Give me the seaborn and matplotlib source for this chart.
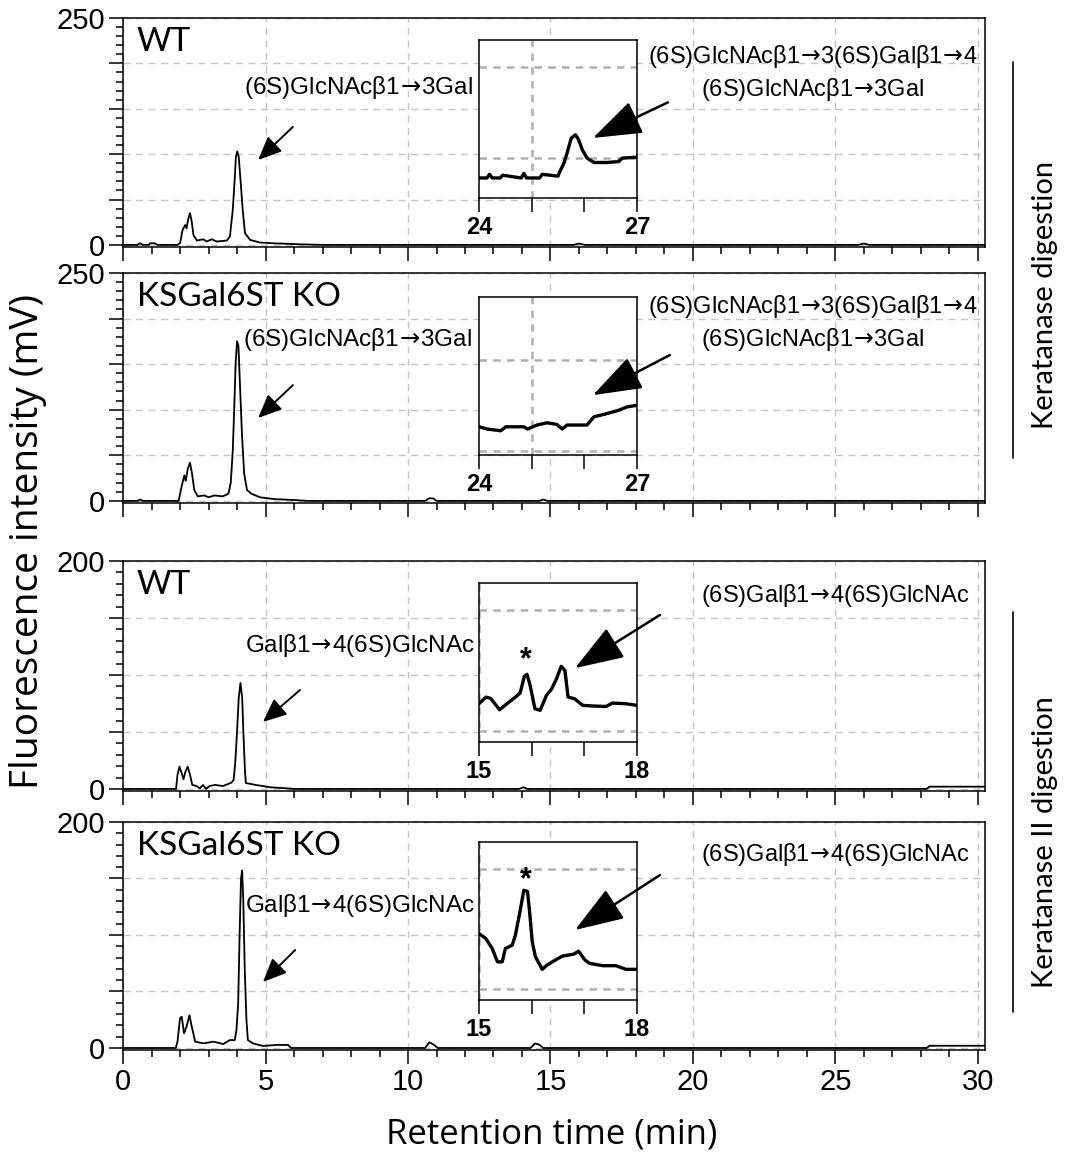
import numpy as np
import matplotlib
matplotlib.use('Agg')
import matplotlib.pyplot as plt
from matplotlib.ticker import MultipleLocator, FuncFormatter
from matplotlib.lines import Line2D
import seaborn as sns

# ---- chromatogram data (retention time in min, intensity in mV) ----
kw_wt_t = [0, 0.5, 0.6, 0.7, 0.9, 0.95, 1.12, 1.2, 1.9, 2.0, 2.09, 2.18, 2.23, 2.29, 2.35, 2.41,
           2.47, 2.59, 2.82, 2.93, 3.11, 3.29, 3.64, 3.75, 3.85, 3.91, 3.96, 4.01, 4.06, 4.13,
           4.2, 4.28, 4.46, 4.81, 5.28, 6.2, 7.0, 15.8, 16.0, 16.2, 25.8, 26.0, 26.2, 30.3]
kw_wt_v = [0, 0, 1.8, 0, 0, 1.8, 1.8, 0, 0, 1.8, 16.5, 22, 18.3, 29, 35, 25.7,
           11, 4.8, 6.2, 3.7, 6.2, 3.7, 4.8, 9.2, 38.5, 68, 97, 103, 97, 68,
           38.5, 12.8, 5.5, 2.6, 1.8, 0.7, 0, 0, 1.5, 0, 0, 1.5, 0, 0]

kw_ko_t = [0, 0.5, 0.6, 0.7, 1.95, 2.05, 2.15, 2.2, 2.27, 2.35, 2.42, 2.5, 2.62, 2.85, 3.0,
           3.2, 3.5, 3.7, 3.78, 3.85, 3.9, 3.95, 4.0, 4.05, 4.1, 4.17, 4.25, 4.35, 4.5,
           4.8, 5.3, 6.0, 6.5, 10.6, 10.75, 10.9, 11.0, 14.6, 14.75, 14.9, 30.3]
kw_ko_v = [0, 0, 1.5, 0, 0, 15, 28, 22, 35, 42, 30, 12, 5, 6, 4,
           6, 5, 8, 20, 55, 100, 150, 175, 170, 130, 75, 30, 12, 8,
           4, 2, 1, 0, 0, 3, 2.5, 0, 0, 1.5, 0, 0]

k2_wt_t = [0, 1.86, 1.91, 1.98, 2.06, 2.12, 2.19, 2.27, 2.35, 2.43, 2.58, 2.69, 2.81, 2.91,
           3.04, 3.22, 3.51, 3.8, 3.88, 3.94, 4.0, 4.06, 4.12, 4.18, 4.23, 4.28, 4.31, 4.66,
           4.9, 5.14, 5.72, 6.0, 13.9, 14.05, 14.2, 28.2, 28.3, 30.3]
k2_wt_v = [0, 0, 12.3, 19.6, 13.7, 8.5, 15.2, 19.6, 12.3, 3.5, 2.6, 0.6, 3.5, 0,
           2.6, 3.5, 2.6, 5.5, 7.9, 24, 50, 80, 93, 80, 45, 15, 5.2, 3.5,
           2.6, 1.5, 0.6, 0, 0, 1.5, 0, 0, 2, 2]

k2_ko_t = [0, 1.85, 1.91, 2.0, 2.06, 2.14, 2.23, 2.33, 2.41, 2.53, 2.82, 3.17, 3.52, 3.75,
           3.92, 3.98, 4.04, 4.09, 4.14, 4.18, 4.22, 4.27, 4.33, 4.38, 4.56, 4.91, 5.38, 5.79,
           5.9, 10.6, 10.75, 10.9, 11.05, 14.3, 14.45, 14.6, 14.75, 28.2, 28.3, 30.3]
k2_ko_v = [0, 0, 5.6, 26.3, 27.7, 13, 19, 29, 19, 5.6, 4.1, 5.6, 3.5, 7,
           7, 16, 39.5, 100, 150, 157, 130, 70, 25, 7, 4.1, 1.8, 2.7, 2.7,
           0, 0, 5, 3, 0, 0, 4, 3, 0, 0, 2, 2]

# ---- zoomed inset data ----
in_kw_wt_t = [24.0, 24.15, 24.2, 24.25, 24.4, 24.45, 24.8, 24.85, 24.9, 25.15, 25.2, 25.5,
              25.52, 25.61, 25.67, 25.75, 25.83, 25.89, 25.96, 26.05, 26.18, 26.43, 26.65,
              26.72, 27.0]
in_kw_wt_v = [3.9, 3.9, 4.1, 3.9, 3.9, 4.05, 3.9, 4.15, 3.9, 3.9, 4.1, 4.0,
              4.17, 4.7, 5.26, 6.08, 6.27, 6.0, 5.45, 4.99, 4.75, 4.75, 4.8,
              4.99, 5.04]

in_kw_ko_t = [24.0, 24.16, 24.41, 24.51, 24.85, 24.92, 25.1, 25.29, 25.48, 25.58, 25.67,
              26.05, 26.18, 26.43, 26.65, 26.81, 27.0]
in_kw_ko_v = [2.62, 2.37, 2.18, 2.62, 2.62, 2.37, 2.81, 3.06, 2.87, 2.37, 2.81,
              2.81, 3.71, 4.07, 4.43, 4.8, 4.98]

in_k2_wt_t = [15.0, 15.13, 15.22, 15.39, 15.53, 15.69, 15.78, 15.86, 15.91, 15.97, 16.06,
              16.16, 16.28, 16.38, 16.47, 16.56, 16.63, 16.69, 16.81, 16.97, 17.16, 17.41,
              17.53, 17.78, 18.0]
in_k2_wt_v = [2.26, 2.8, 2.7, 1.76, 2.26, 2.8, 3.14, 4.51, 4.68, 3.77, 1.85,
              1.71, 2.95, 3.49, 4.31, 5.34, 5.0, 2.81, 2.67, 2.12, 2.07, 2.03,
              2.31, 2.26, 2.12]

in_k2_ko_t = [15.0, 15.13, 15.25, 15.35, 15.44, 15.5, 15.63, 15.69, 15.77, 15.85, 15.92,
              15.96, 16.01, 16.07, 16.2, 16.29, 16.45, 16.58, 16.8, 16.89, 17.01, 17.1,
              17.35, 17.6, 17.79, 18.0]
in_k2_ko_v = [4.62, 4.2, 3.38, 2.28, 2.28, 3.38, 3.66, 4.49, 6.27, 8.2, 8.1,
              6.41, 3.93, 2.7, 1.66, 2.01, 2.43, 2.75, 2.92, 3.16, 2.43, 2.15,
              1.96, 1.96, 1.66, 1.66]

ARR = r'$\!{\rightarrow}\!$'
panel_names = ['WT', 'KSGal6ST KO', 'WT', 'KSGal6ST KO']
panel_ymax = [250, 250, 200, 200]
main_labels = ['(6S)GlcNAc\u03b21' + ARR + '3Gal', '(6S)GlcNAc\u03b21' + ARR + '3Gal',
               'Gal\u03b21' + ARR + '4(6S)GlcNAc', 'Gal\u03b21' + ARR + '4(6S)GlcNAc']
inset_labels = ['(6S)GlcNAc\u03b21' + ARR + '3(6S)Gal\u03b21' + ARR + '4\n(6S)GlcNAc\u03b21' + ARR + '3Gal',
                '(6S)GlcNAc\u03b21' + ARR + '3(6S)Gal\u03b21' + ARR + '4\n(6S)GlcNAc\u03b21' + ARR + '3Gal',
                '(6S)Gal\u03b21' + ARR + '4(6S)GlcNAc',
                '(6S)Gal\u03b21' + ARR + '4(6S)GlcNAc']
inset_xlim = [(24, 27), (24, 27), (15, 18), (15, 18)]
inset_ylim = [(2.8, 11.47), (-0.47, 16.86), (-0.9, 12.2), (-0.88, 12.19)]
inset_grid_y = [[5, 10], [0, 10], [0, 10], [0, 10]]
inset_grid_x = [25, 25, 15, 15]
star_pos = [None, None, (15.88, 5.8), (15.88, 9.0)]

traces = [(kw_wt_t, kw_wt_v), (kw_ko_t, kw_ko_v), (k2_wt_t, k2_wt_v), (k2_ko_t, k2_ko_v)]
insets = [(in_kw_wt_t, in_kw_wt_v), (in_kw_ko_t, in_kw_ko_v),
          (in_k2_wt_t, in_k2_wt_v), (in_k2_ko_t, in_k2_ko_v)]

# layout (figure fractions) and annotation anchors (main-axes data coords)
main_rects = [[0.115, 0.7871, 0.8056, 0.1974],
              [0.115, 0.5664, 0.8056, 0.1983],
              [0.115, 0.3181, 0.8056, 0.1983],
              [0.115, 0.0948, 0.8056, 0.1966]]
inset_rects = [[0.4477, 0.8293, 0.1477, 0.1362],
               [0.4477, 0.6078, 0.1477, 0.1362],
               [0.4477, 0.3603, 0.1477, 0.1371],
               [0.4477, 0.1379, 0.1477, 0.1362]]
main_text_xy = [(8.25, 173), (8.21, 176.5), (8.32, 126), (8.32, 126.5)]
main_arrow = [((5.96, 130), (4.74, 93.6)), ((5.96, 127), (4.74, 91)),
              ((6.21, 86.8), (4.91, 58.8)), ((6.04, 86.7), (4.91, 58.4))]
inset_text_xy = [(24.21, 189.4), (24.21, 195), (24.98, 170), (24.98, 170.8)]
inset_arrow = [((19.12, 157), (16.49, 117.8)), ((19.19, 160), (16.49, 116)),
               ((18.84, 152.6), (15.86, 106)), ((18.84, 153), (15.86, 104.4))]

sns.set_theme(style='ticks')
plt.rcParams['font.family'] = ['Liberation Sans', 'DejaVu Sans']
plt.rcParams['mathtext.fontset'] = 'dejavusans'
plt.rcParams['axes.linewidth'] = 1.1
for key in ['text.color', 'axes.labelcolor', 'xtick.color', 'ytick.color', 'axes.edgecolor']:
    plt.rcParams[key] = 'black'

fig = plt.figure(figsize=(10.7, 11.6), dpi=100)
grid_col = '#c4c4c4'

for i in range(4):
    ax = fig.add_axes(main_rects[i])
    t, v = traces[i]
    sns.lineplot(x=t, y=v, ax=ax, color='black', linewidth=1.3, estimator=None, sort=False)
    ymax = panel_ymax[i]
    ax.set_xlim(0, 30.25)
    ax.set_ylim(-ymax * 0.009, ymax)
    ax.xaxis.set_major_locator(MultipleLocator(5))
    ax.xaxis.set_minor_locator(MultipleLocator(1))
    ax.yaxis.set_major_locator(MultipleLocator(50))
    ax.yaxis.set_minor_locator(MultipleLocator(10))
    ax.yaxis.set_major_formatter(FuncFormatter(
        lambda val, pos, top=ymax: '%d' % val if val in (0, top) else ''))
    ax.tick_params(which='major', length=10, width=1.1, labelsize=21, pad=3)
    ax.tick_params(which='minor', length=5, width=1.1)
    if i < 3:
        ax.tick_params(axis='x', labelbottom=False)
    ax.grid(True, which='major', color=grid_col, linestyle=(0, (5, 4)), linewidth=1.0)
    ax.set_xlabel('')
    ax.set_ylabel('')
    ax.text(0.016, 0.895, panel_names[i], transform=ax.transAxes, fontsize=24,
            family='Lato', va='center', ha='left')

    # main peak label + arrow
    ax.text(main_text_xy[i][0], main_text_xy[i][1], main_labels[i], fontsize=17.5,
            ha='center', va='center')
    (x0, y0), (x1, y1) = main_arrow[i]
    ax.annotate('', xy=(x1, y1), xytext=(x0, y0),
                arrowprops=dict(arrowstyle='-|>,head_length=0.8,head_width=0.35',
                                mutation_scale=18, lw=1.4, color='black',
                                shrinkA=0, shrinkB=0))

    # zoomed inset
    ins = fig.add_axes(inset_rects[i])
    it, iv = insets[i]
    sns.lineplot(x=it, y=iv, ax=ins, color='black', linewidth=2.4, estimator=None,
                 sort=False)
    ins.set_xlim(*inset_xlim[i])
    ins.set_ylim(*inset_ylim[i])
    for gy in inset_grid_y[i]:
        ins.axhline(gy, color='#b0b0b0', linestyle=(0, (3, 2.5)), linewidth=1.8, zorder=0)
    ins.axvline(inset_grid_x[i], color='#b0b0b0', linestyle=(0, (3, 2.5)), linewidth=1.8,
                zorder=0)
    x_lo, x_hi = inset_xlim[i]
    ins.set_xticks([x_lo, x_lo + 1, x_lo + 2, x_hi])
    ins.set_xticklabels([str(x_lo), '', '', str(x_hi)], fontsize=17, fontweight='bold')
    ins.set_yticks([])
    ins.tick_params(axis='x', length=10, width=1.1, pad=3)
    ins.set_xlabel('')
    ins.set_ylabel('')
    for s in ins.spines.values():
        s.set_linewidth(1.1)
    if star_pos[i] is not None:
        ins.text(star_pos[i][0], star_pos[i][1], '*', fontsize=22, fontweight='bold',
                 ha='center', va='center')

    ax.text(inset_text_xy[i][0], inset_text_xy[i][1], inset_labels[i], fontsize=17,
            ha='center', va='center', multialignment='center', linespacing=1.3)
    (x0, y0), (x1, y1) = inset_arrow[i]
    ins.annotate('', xy=(x1, y1), xycoords=ax.transData, xytext=(x0, y0),
                 textcoords=ax.transData, annotation_clip=False,
                 arrowprops=dict(arrowstyle='-|>,head_length=1.7,head_width=0.6',
                                 mutation_scale=18, lw=1.8, color='black',
                                 shrinkA=0, shrinkB=0))

# axis titles
fig.text(0.026, 0.533, 'Fluorescence intensity (mV)', rotation=90, ha='center',
         va='center', fontsize=28, family='Open Sans')
fig.text(0.516, 0.0216, 'Retention time (min)', ha='center', va='center',
         fontsize=25, family='Open Sans')

# digestion brackets on the right
fig.add_artist(Line2D([1013 / 1070, 1013 / 1070], [1 - 62 / 1160, 1 - 458 / 1160],
                      color='black', lw=1.2, transform=fig.transFigure))
fig.add_artist(Line2D([1013 / 1070, 1013 / 1070], [1 - 612 / 1160, 1 - 1012 / 1160],
                      color='black', lw=1.2, transform=fig.transFigure))
fig.text(1045 / 1070, 1 - 295 / 1160, 'Keratanase digestion', rotation=90, ha='center',
         va='center', fontsize=21, family='Lato')
fig.text(1045 / 1070, 1 - 842 / 1160, 'Keratanase II digestion', rotation=90, ha='center',
         va='center', fontsize=21, family='Lato')

fig.savefig('out.png', dpi=100)
